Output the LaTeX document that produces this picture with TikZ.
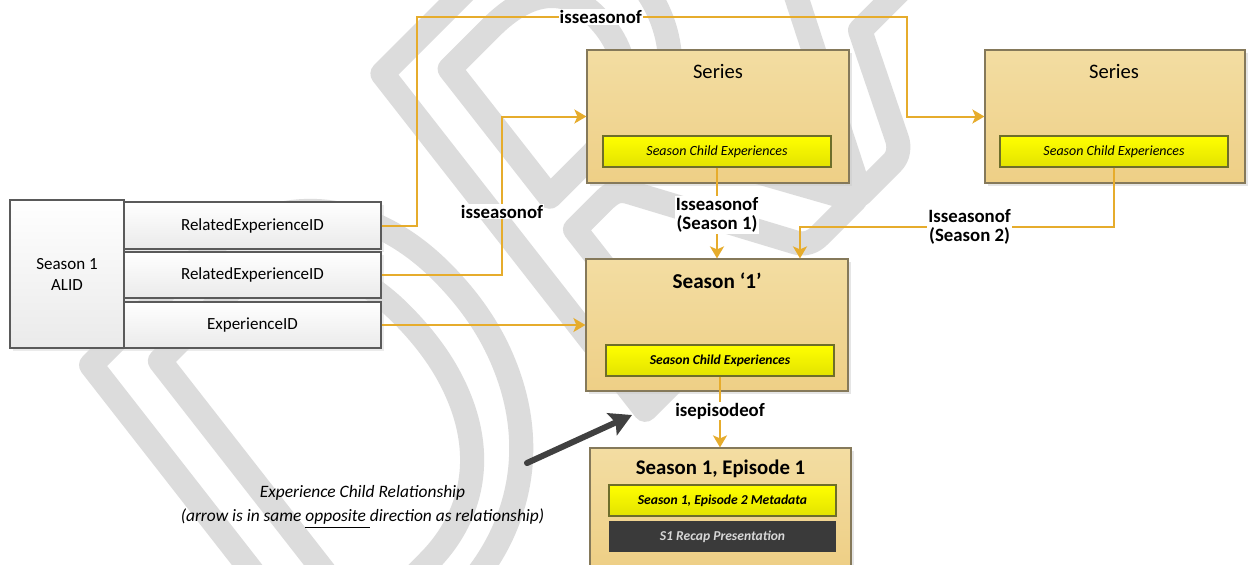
\documentclass[tikz,border=0pt]{standalone}
\usepackage{fontspec}
\setmainfont{Carlito}
\usetikzlibrary{positioning,calc,arrows.meta,shadows}

\definecolor{tantop}{HTML}{F3DDA2}
\definecolor{tanbot}{HTML}{EECF86}
\definecolor{tanline}{HTML}{85795A}
\definecolor{yeltop}{HTML}{FFFF00}
\definecolor{yelbot}{HTML}{E3E300}
\definecolor{yelline}{HTML}{6E6E2A}
\definecolor{idbot}{HTML}{EAEAEA}
\definecolor{idline}{HTML}{5A5A5A}
\definecolor{linkcol}{HTML}{E6AC2C}
\definecolor{hintcol}{HTML}{404040}
\definecolor{recapfill}{HTML}{3A3A3A}
\definecolor{recaptext}{HTML}{D8D8D8}
\definecolor{wmgray}{HTML}{DCDCDC}

% outlined glyphs for the watermark
\newcommand{\wmoutline}[1]{\special{pdf:literal direct 1 Tr 12 w 1 j 1 J}#1\special{pdf:literal direct 0 Tr 0.4 w 0 j 0 J}}

\tikzset{
  card/.style={rectangle, draw=tanline, line width=0.6pt, top color=tantop, bottom color=tanbot,
    drop shadow={shadow xshift=1.5pt, shadow yshift=-1.5pt, fill=black!20},
    minimum width=131pt, minimum height=66.5pt, inner sep=0pt},
  idbox/.style={rectangle, draw=idline, line width=0.6pt, top color=white, bottom color=idbot,
    drop shadow={shadow xshift=1.5pt, shadow yshift=-1.5pt, fill=black!15},
    inner sep=0pt, font=\fontsize{8.5}{10.5}\selectfont},
  inbox/.style={rectangle, draw=yelline, line width=0.6pt, top color=yeltop, bottom color=yelbot,
    minimum width=114pt, minimum height=15.5pt, inner sep=0pt, font=\fontsize{7}{8}\selectfont\itshape},
  recapbox/.style={rectangle, fill=recapfill, text=recaptext, minimum width=113.5pt, minimum height=15.5pt,
    inner sep=0pt, font=\fontsize{6.8}{8}\selectfont\bfseries\itshape},
  title/.style={inner sep=0pt, font=\fontsize{10.3}{12}\selectfont},
  link/.style={draw=linkcol, line width=1pt, -{Stealth[length=6pt,width=7pt,inset=1.5pt]}},
  lbl/.style={fill=white, inner sep=0.5pt, align=center, font=\fontsize{9.4}{9.8}\selectfont\bfseries},
  hint/.style={draw=hintcol, line width=3pt, line cap=round, -{Stealth[length=11pt,width=12pt,inset=2pt]}},
  wm/.style={text=wmgray, inner sep=0pt, outer sep=0pt, font=\fontsize{330}{330}\selectfont\itshape}
}

\begin{document}
\begin{tikzpicture}[x=0.5pt,y=-0.5pt]
    \useasboundingbox (0,0) rectangle (1248,564);
    \fill[white] (0,0) rectangle (1248,564);

    % watermark
    \node[wm, rotate=45, anchor=base west] (draft) at (334,721) {\wmoutline{DRAFT}};

    % Season 1 ALID and its IDs
    \node[idbox, minimum width=57pt, minimum height=74pt, align=center] (alid) at (67,274) {Season 1\\ALID};
    \node[idbox, minimum width=128.5pt, minimum height=23.5pt] (rel1) at (252.5,225.5) {RelatedExperienceID};
    \node[idbox, minimum width=128.5pt, minimum height=23pt] (rel2) at (252.5,275) {RelatedExperienceID};
    \node[idbox, minimum width=128.5pt, minimum height=23pt] (expid) at (252.5,325) {ExperienceID};

    % Series boxes
    \node[card] (series1) at (718,116.5) {};
    \node[title] (series1t) at (718,71) {Series};
    \node[inbox] (sce1) at (717,151.5) {Season Child Experiences};

    \node[card, minimum width=130pt] (series2) at (1115,116.5) {};
    \node[title] (series2t) at (1114,71) {Series};
    \node[inbox] (sce2) at (1114,151.5) {Season Child Experiences};

    % Season 1
    \node[card, minimum height=66pt] (season1) at (717,325) {};
    \node[title, font=\fontsize{10.6}{12}\selectfont\bfseries] (season1t) at (717,281) {Season ‘1’};
    \node[inbox, font=\fontsize{6.8}{8}\selectfont\bfseries\itshape] (sce3) at (720,360.5) {Season Child Experiences};

    % Episode 1
    \node[card, minimum width=130.5pt, minimum height=59pt] (ep1) at (720.5,507) {};
    \node[title, font=\fontsize{10.4}{12}\selectfont\bfseries] (ep1t) at (720.5,469) {Season 1, Episode 1};
    \node[inbox, minimum width=113.5pt, font=\fontsize{6.8}{8}\selectfont\bfseries\itshape] (meta) at (722.5,500.5) {Season 1, Episode 2 Metadata};
    \node[recapbox] (recap) at (722.5,536.5) {S1 Recap Presentation};

    % relationships
    \coordinate (topl) at (417,17);
    \coordinate (topr) at (907,17);
    \draw[link] (rel1.east) -| (topl) -- node[lbl, pos=0.375] {isseasonof} (topr) |- (series2.west);

    \coordinate (midl) at (502,116.5);
    \draw[link] (rel2.east) -| node[lbl, pos=0.7] {isseasonof} (midl) -- (series1.west);

    \draw[link] (expid.east) -- (season1.west);

    \draw[link] (sce1.south) -- node[lbl, pos=0.52] {Isseasonof\\(Season 1)} (season1.north);

    \coordinate (s2bend) at (800,227);
    \draw[link] (sce2.south) |- node[lbl, pos=0.73] {Isseasonof\\(Season 2)} (s2bend) -- (s2bend |- season1.north);

    \draw[link] (sce3.south) -- node[lbl, pos=0.49] {isepisodeof} (sce3.south |- ep1.north);

    % child relationship hint
    \coordinate (hintA) at (527,463);
    \coordinate (hintB) at (632,415);
    \draw[hint] (hintA) -- (hintB);
    \node[align=center, font=\fontsize{8.7}{12}\selectfont\itshape] (hintt) at (362.5,507)
        {Experience Child Relationship\\(arrow is in same \underline{opposite\ }direction as relationship)};
\end{tikzpicture}
\end{document}
